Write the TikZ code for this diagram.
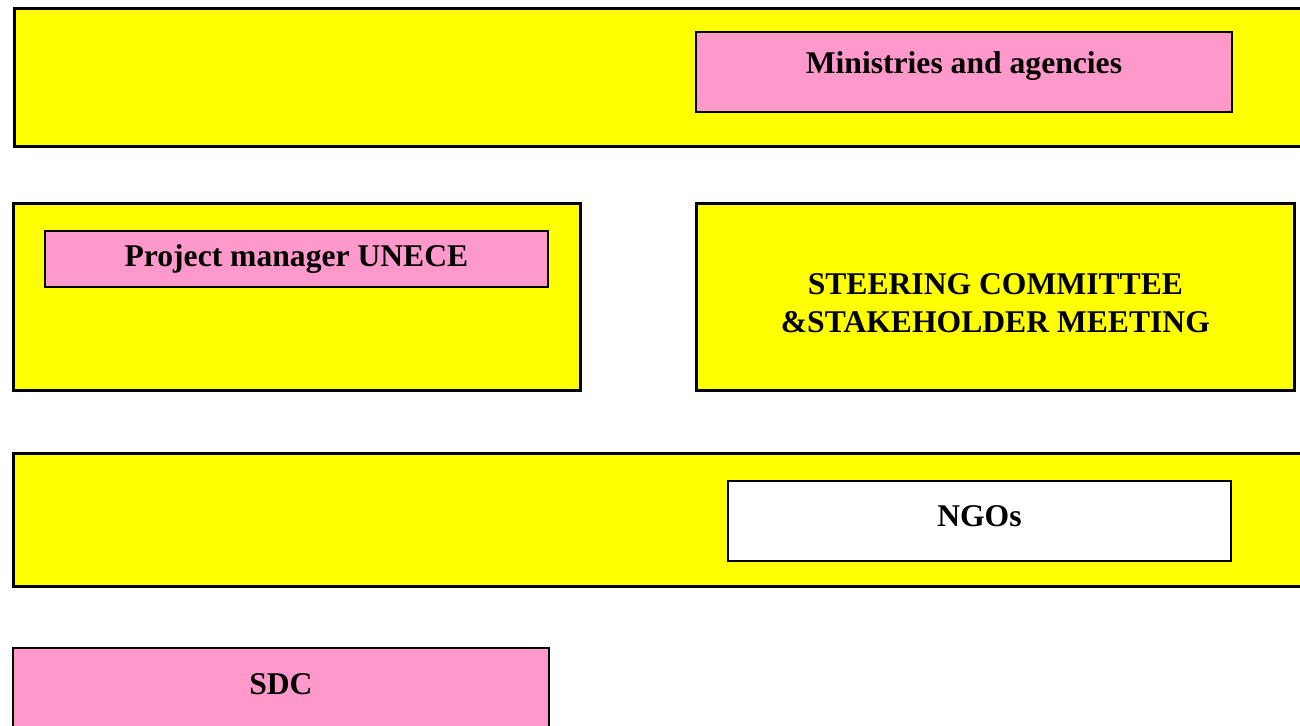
\documentclass[tikz,border=0pt]{standalone}
\usepackage{fontspec}
\setmainfont{Liberation Serif}
\usetikzlibrary{positioning}
\definecolor{bandyellow}{RGB}{255,255,0}
\definecolor{boxpink}{RGB}{255,153,204}
\tikzset{band/.style = {draw, line width = 1.6pt, fill = bandyellow,
                        anchor = north west, inner sep = 0pt},
         pinkbox/.style = {draw, line width = 1.1pt, fill = boxpink,
                           anchor = north west, inner sep = 0pt},
         whitebox/.style = {pinkbox, fill = white},
         lbl/.style = {font = \fontsize{18}{21.5}\selectfont\bfseries,
                       align = center, inner sep = 0pt}}

\begin{document}
\begin{tikzpicture}[x = 0.02cm, y = -0.02cm]
        \useasboundingbox (0,0) rectangle (1300,725);
        \clip (0,0) rectangle (1300,725);

        % top band
        \node[band, minimum width = 25.9cm, minimum height = 2.76cm]   (topband) at (13,7)   {};
        \node[pinkbox, minimum width = 10.72cm, minimum height = 1.6cm] (min)     at (695,31) {};
        \node[lbl, below = 0.4cm of min.north]                        (mintxt)  {Ministries and agencies};

        % middle row
        \node[band, minimum width = 11.34cm, minimum height = 3.74cm]  (pmband)  at (12,202) {};
        \node[pinkbox, lbl, anchor = north west, minimum width = 10.06cm, minimum height = 1.12cm] (pm) at ([yshift = -0.02cm]44,229) {Project manager UNECE};
        \node[band, minimum width = 11.96cm, minimum height = 3.74cm]  (sc)      at (695,202) {};
        \node[lbl] (sctxt) at ([yshift = -0.12cm]sc.center) {STEERING COMMITTEE\\\&STAKEHOLDER MEETING};

        % NGO band
        \node[band, minimum width = 25.96cm, minimum height = 2.66cm]  (ngoband) at (12,452) {};
        \node[whitebox, minimum width = 10.06cm, minimum height = 1.6cm] (ngo)   at (727,480) {};
        \node[lbl, below = 0.5cm of ngo.north]                         (ngotxt)  {NGOs};

        % donor
        \node[pinkbox, minimum width = 10.72cm, minimum height = 2.4cm] (sdc)     at (12,647) {};
        \node[lbl, below = 0.53cm of sdc.north]                        (sdctxt)  {SDC};
\end{tikzpicture}
\end{document}
